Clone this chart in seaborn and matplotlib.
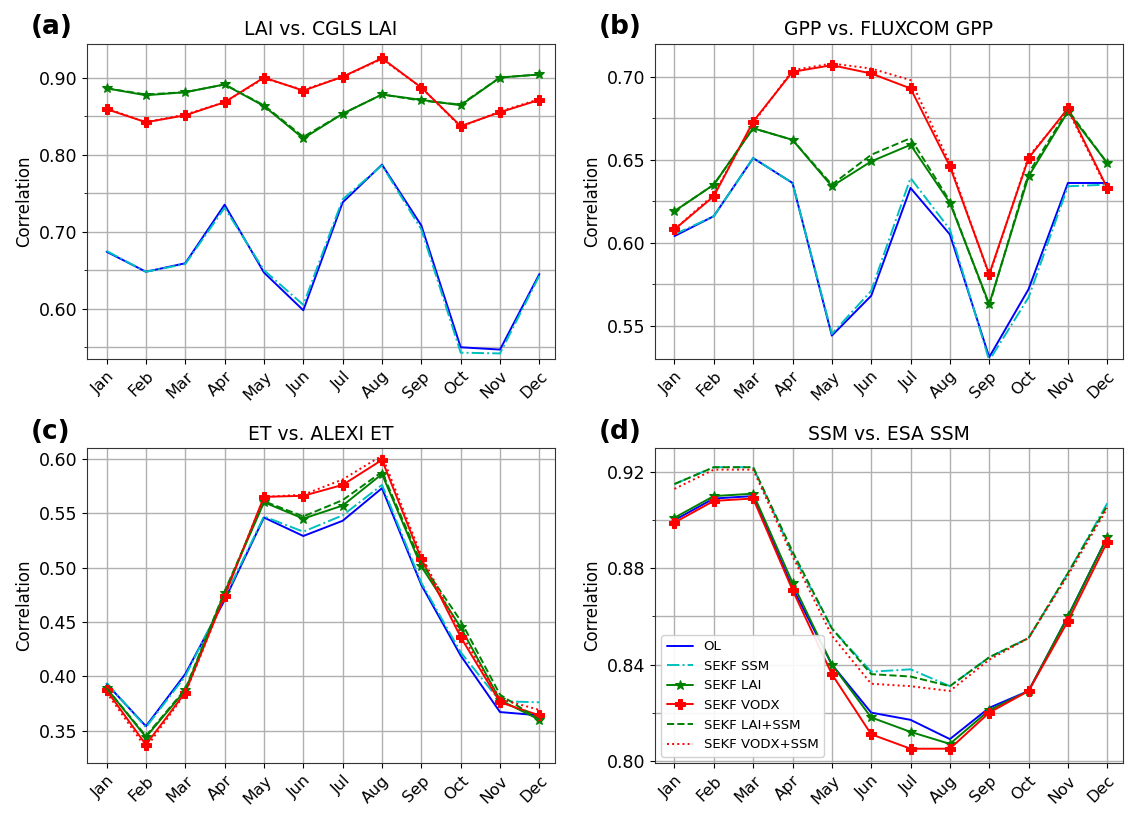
import matplotlib
matplotlib.use("Agg")
import matplotlib.pyplot as plt
from matplotlib.ticker import MultipleLocator, FormatStrFormatter
import pandas as pd
import seaborn as sns

months = ["Jan", "Feb", "Mar", "Apr", "May", "Jun", "Jul", "Aug", "Sep", "Oct", "Nov", "Dec"]
series_names = ["OL", "SEKF SSM", "SEKF LAI", "SEKF VODX", "SEKF LAI+SSM", "SEKF VODX+SSM"]

# panel (a) LAI vs CGLS LAI
lai_ol = [.674, .648, .659, .735, .647, .598, .738, .787, .708, .550, .547, .645]
lai_ssm = [.675, .648, .658, .731, .650, .605, .742, .786, .703, .543, .542, .643]
lai_lai = [.886, .877, .881, .891, .863, .821, .853, .878, .871, .864, .900, .904]
lai_vodx = [.859, .842, .851, .868, .900, .883, .901, .925, .887, .837, .855, .871]
lai_laissm = [.886, .878, .881, .891, .864, .823, .853, .878, .870, .865, .900, .904]
lai_vodxssm = [.860, .842, .852, .868, .899, .884, .901, .924, .887, .836, .856, .872]

# panel (b) GPP vs FLUXCOM GPP
gpp_ol = [.604, .616, .651, .636, .544, .568, .633, .605, .531, .572, .636, .636]
gpp_ssm = [.605, .616, .651, .636, .545, .571, .639, .608, .529, .567, .634, .635]
gpp_lai = [.619, .635, .669, .662, .634, .649, .659, .624, .563, .640, .679, .648]
gpp_vodx = [.608, .628, .673, .703, .707, .702, .693, .646, .581, .651, .681, .633]
gpp_laissm = [.619, .635, .669, .662, .635, .653, .663, .625, .562, .642, .680, .648]
gpp_vodxssm = [.608, .629, .672, .704, .708, .705, .698, .648, .580, .652, .680, .632]

# panel (c) ET vs ALEXI ET
et_ol = [.393, .354, .402, .470, .546, .529, .543, .573, .484, .419, .367, .364]
et_ssm = [.394, .353, .400, .472, .547, .533, .548, .576, .486, .422, .377, .376]
et_lai = [.389, .344, .387, .477, .560, .545, .557, .586, .501, .445, .378, .360]
et_vodx = [.387, .337, .385, .474, .565, .566, .576, .599, .508, .436, .376, .364]
et_laissm = [.389, .345, .388, .478, .561, .547, .562, .588, .504, .451, .383, .360]
et_vodxssm = [.385, .334, .384, .474, .565, .567, .581, .603, .511, .440, .379, .369]

# panel (d) SSM vs ESA SSM
ssm_ol = [.900, .909, .910, .872, .840, .820, .817, .809, .822, .829, .860, .893]
ssm_ssm = [.915, .922, .922, .886, .855, .837, .838, .831, .843, .851, .878, .907]
ssm_lai = [.901, .910, .911, .874, .840, .818, .812, .807, .821, .829, .860, .893]
ssm_vodx = [.899, .908, .909, .871, .836, .811, .805, .805, .820, .829, .858, .891]
ssm_laissm = [.915, .922, .922, .887, .855, .836, .835, .831, .843, .851, .878, .906]
ssm_vodxssm = [.913, .921, .921, .885, .852, .832, .831, .829, .842, .851, .877, .905]

styles = {
    "OL": dict(color="blue", ls="-", marker=None),
    "SEKF SSM": dict(color="c", ls="-.", marker=None),
    "SEKF LAI": dict(color="green", ls="-", marker="*"),
    "SEKF VODX": dict(color="red", ls="-", marker="P"),
    "SEKF LAI+SSM": dict(color="green", ls="--", marker=None),
    "SEKF VODX+SSM": dict(color="red", ls=":", marker=None),
}

panels = [
    ("(a)", "LAI vs. CGLS LAI", [lai_ol, lai_ssm, lai_lai, lai_vodx, lai_laissm, lai_vodxssm],
     (0.535, 0.944), 0.10, 0.05),
    ("(b)", "GPP vs. FLUXCOM GPP", [gpp_ol, gpp_ssm, gpp_lai, gpp_vodx, gpp_laissm, gpp_vodxssm],
     (0.530, 0.720), 0.05, 0.025),
    ("(c)", "ET vs. ALEXI ET", [et_ol, et_ssm, et_lai, et_vodx, et_laissm, et_vodxssm],
     (0.320, 0.610), 0.05, 0.05),
    ("(d)", "SSM vs. ESA SSM", [ssm_ol, ssm_ssm, ssm_lai, ssm_vodx, ssm_laissm, ssm_vodxssm],
     (0.799, 0.930), 0.04, 0.02),
]

sns.set_style("ticks")
plt.rcParams["font.family"] = ["DejaVu Sans"]
plt.rcParams["text.color"] = "black"
plt.rcParams["xtick.color"] = "black"
plt.rcParams["ytick.color"] = "black"
plt.rcParams["axes.labelcolor"] = "black"

fig, axes = plt.subplots(2, 2, figsize=(11.38, 8.22), dpi=100)
for ax, (tag, title, data, ylim, major, minor) in zip(axes.flat, panels):
    for name, vals in zip(series_names, data):
        st = styles[name]
        df = pd.DataFrame({"month": months, "r": vals})
        sns.lineplot(data=df, x="month", y="r", ax=ax, color=st["color"], linestyle=st["ls"],
                     marker=st["marker"], markersize=7,
                     markeredgecolor=st["color"], lw=1.4, label=name, sort=False)
    ax.set_ylim(*ylim)
    ax.set_xlim(-0.5, 11.4)
    ax.yaxis.set_major_locator(MultipleLocator(major))
    ax.yaxis.set_minor_locator(MultipleLocator(minor))
    ax.yaxis.set_major_formatter(FormatStrFormatter("%.2f"))
    ax.grid(True, which="both", color="#b0b0b0", lw=1)
    ax.tick_params(axis="y", labelsize=12.5)
    ax.tick_params(axis="x", labelsize=11.5, rotation=45)
    for lbl in ax.get_xticklabels():
        lbl.set_ha("right")
        lbl.set_rotation_mode("anchor")
    ax.set_xlabel("")
    ax.set_ylabel("Correlation", fontsize=12)
    ax.set_title(title, fontsize=13.5)
    ax.text(-0.12, 1.03, tag, transform=ax.transAxes, fontsize=19, fontweight="bold")
    for sp in ax.spines.values():
        sp.set_color("#333333")
    if tag == "(d)":
        ax.legend(loc="lower left", fontsize=9.5, framealpha=0.9)
    else:
        ax.get_legend().remove()

plt.tight_layout(h_pad=1.2, w_pad=2.0)
plt.savefig("out.png", dpi=100)
